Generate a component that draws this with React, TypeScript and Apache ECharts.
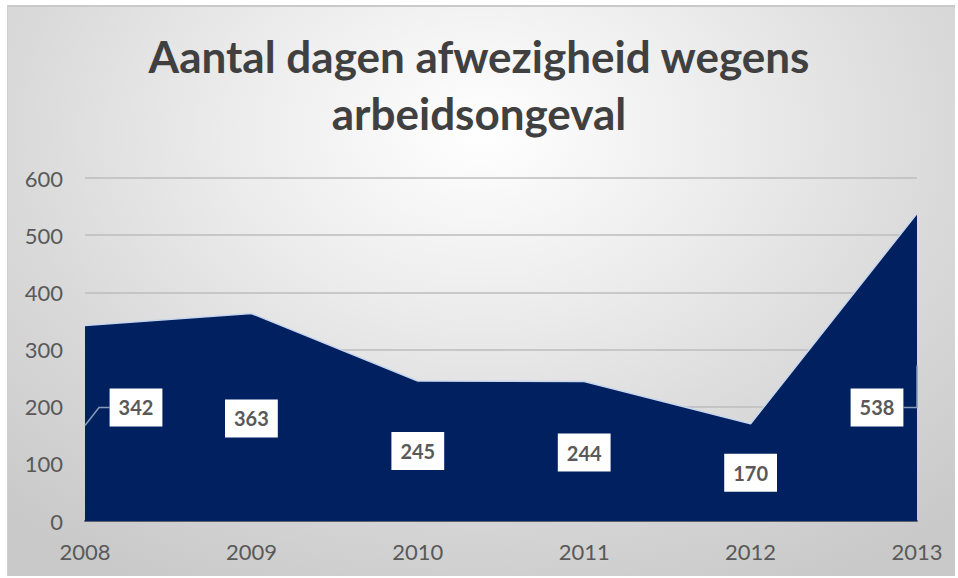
import React, { useEffect, useRef } from "react";
import * as echarts from "echarts";

const titleText = "Aantal dagen afwezigheid wegens\narbeidsongeval";
const years = ["2008", "2009", "2010", "2011", "2012", "2013"];
const days = [342, 363, 245, 244, 170, 538];

// label offsets (pixels) relative to each point, as placed in the original
const labelOffsets: [number, number][] = [
  [51, 82],
  [0, 105],
  [0, 70],
  [0, 71],
  [0, 49],
  [-40, 194],
];

export default function App() {
  const ref = useRef<HTMLDivElement>(null);
  useEffect(() => {
    if (!ref.current) return;
    const chart = echarts.init(ref.current, undefined, { renderer: "svg" });
    const font = "Lato, 'Open Sans', sans-serif";
    chart.setOption({
      animation: false,
      backgroundColor: "transparent",
      title: {
        text: titleText,
        left: "center",
        top: 22,
        textStyle: {
          fontFamily: font,
          fontSize: 44,
          fontWeight: "bold",
          color: "#404040",
          lineHeight: 57,
        },
      },
      grid: { left: 85, right: 41, top: 178, bottom: 57 },
      xAxis: {
        type: "category",
        data: years,
        boundaryGap: false,
        axisLine: { show: true, lineStyle: { color: "#5d6270", width: 2 } },
        axisTick: { show: false },
        axisLabel: { color: "#595959", fontSize: 22, fontFamily: font, margin: 19 },
        splitLine: { show: false },
      },
      yAxis: {
        type: "value",
        min: 0,
        max: 600,
        interval: 100,
        axisLine: { show: false },
        axisTick: { show: false },
        axisLabel: { color: "#595959", fontSize: 22, fontFamily: font, margin: 22 },
        splitLine: { lineStyle: { color: "#bdbdbd", width: 1.5 } },
      },
      series: [
        {
          type: "line",
          data: days.map((v, i) => ({
            value: v,
            label: { offset: labelOffsets[i] },
          })),
          symbol: "circle",
          symbolSize: 1,
          showSymbol: true,
          itemStyle: { color: "rgba(0,0,0,0)", borderWidth: 0 },
          lineStyle: { color: "#c8d6ee", width: 1.5 },
          areaStyle: { color: "#002060", opacity: 1 },
          label: {
            show: true,
            position: "inside",
            backgroundColor: "#ffffff",
            padding: [7, 9, 7, 9],
            color: "#595959",
            fontFamily: font,
            fontWeight: "bold",
            fontSize: 20,
            lineHeight: 24,
          },
          z: 3,
        },
      ],
    });

    const p0 = chart.convertToPixel({ seriesIndex: 0 }, [0, days[0]]) as number[];
    const p5 = chart.convertToPixel({ seriesIndex: 0 }, [5, days[5]]) as number[];
    const y0 = p0[1] + labelOffsets[0][1];
    const y5 = p5[1] + labelOffsets[5][1];
    chart.setOption({
      graphic: [
        {
          type: "polyline",
          z: 10,
          shape: {
            points: [
              [p0[0], y0 + 18],
              [p0[0] + 14, y0],
              [p0[0] + 25, y0],
            ],
          },
          style: { stroke: "#8a9bb8", lineWidth: 1.5, fill: null },
        },
        {
          type: "polyline",
          z: 10,
          shape: {
            points: [
              [p5[0] - 14, y5],
              [p5[0], y5],
              [p5[0], y5 - 42],
            ],
          },
          style: { stroke: "#8a9bb8", lineWidth: 1.5, fill: null },
        },
      ],
    });
    return () => chart.dispose();
  }, []);

  return (
    <div
      style={{
        position: "fixed",
        left: 0,
        top: 0,
        width: 958,
        height: 578,
        background: "#ffffff",
      }}
    >
      <div
        style={{
          position: "absolute",
          left: 7,
          top: 5,
          width: 948,
          height: 571,
          boxSizing: "border-box",
          borderTop: "2px solid #c9c9c9",
          borderLeft: "1px solid #d0d0d0",
          background:
            "radial-gradient(ellipse 75% 90% at 50% 22%, #ffffff 0%, #ececec 35%, #dadada 65%, #c9c9c9 100%)",
        }}
      />
      <div ref={ref} style={{ position: "absolute", left: 0, top: 0, width: 958, height: 578 }} />
    </div>
  );
}
